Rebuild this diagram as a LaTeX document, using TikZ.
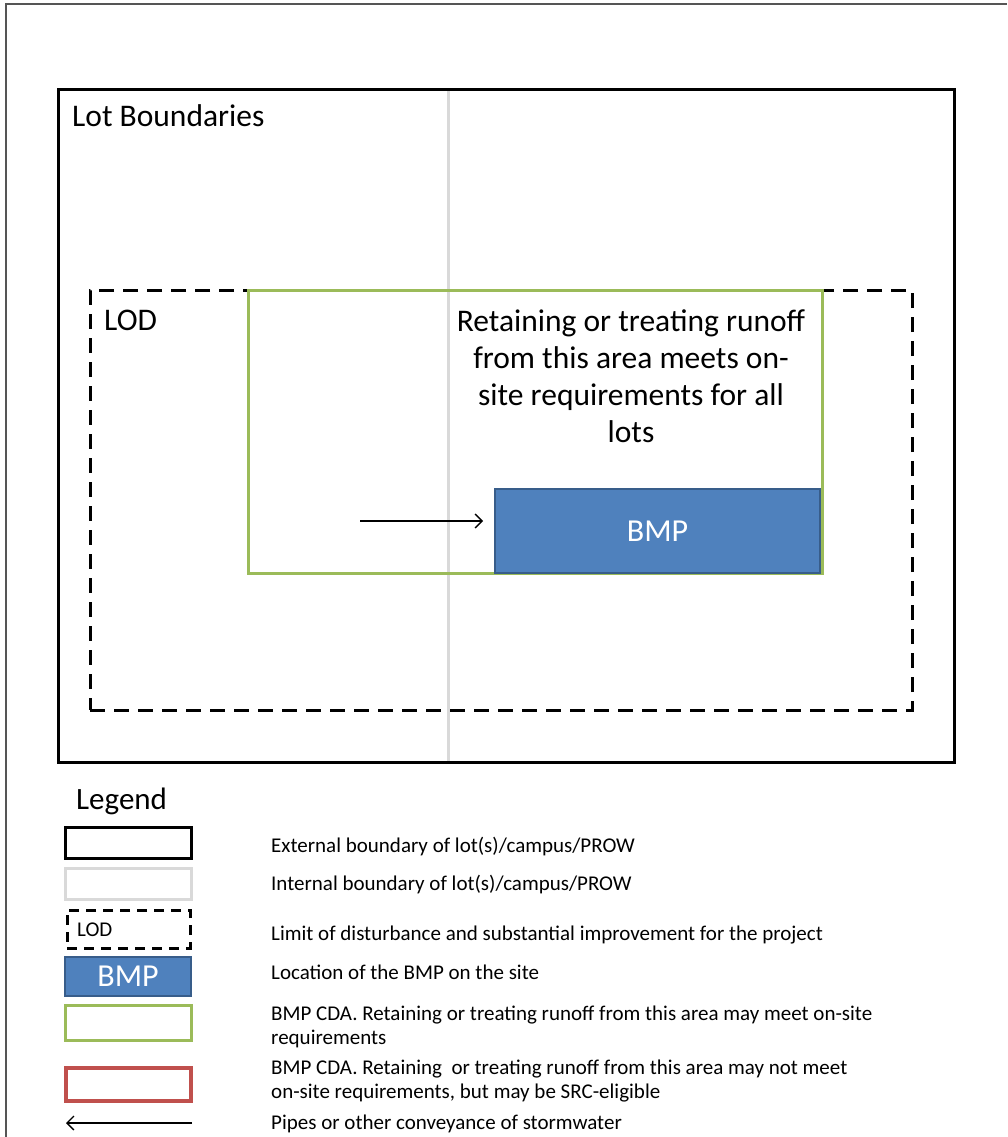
\documentclass[tikz,border=0pt]{standalone}
\usepackage{fontspec}
\setmainfont{Carlito}
\usetikzlibrary{arrows.meta}
\definecolor{cdagreen}{HTML}{9BBB59}
\definecolor{bmpfill}{HTML}{4F81BD}
\definecolor{bmpedge}{HTML}{385D8A}
\definecolor{cdared}{HTML}{C0504D}
\definecolor{intgray}{HTML}{D9D9D9}
\definecolor{framegray}{HTML}{555555}
\tikzset{
  box/.style={inner sep=0pt, outer sep=0pt, anchor=north west},
  extbox/.style={box, draw=black, line width=3pt},
  intbox/.style={box, draw=intgray, line width=3pt},
  lodbox/.style={box, draw=black, line width=3pt, dash pattern=on 15pt off 9pt},
  greenbox/.style={box, draw=cdagreen, line width=3pt},
  redbox/.style={box, draw=cdared, line width=3.2pt},
  bmpbox/.style={box, fill=bmpfill, draw=bmpedge, line width=1.5pt, text=white},
  pipe/.style={line width=1.3pt, -{Straight Barb[length=7pt,width=14pt,line width=1.3pt]}},
  legtext/.style={anchor=west, inner sep=0pt, align=left, font=\fontsize{21}{24.5}\selectfont},
  bigtext/.style={inner sep=0pt, font=\fontsize{31.5}{37}\selectfont}
}
\begin{document}
\begin{tikzpicture}[x=1pt,y=-1pt]
\useasboundingbox (0,0) rectangle (1007,1137);
% page frame
\draw[framegray, line width=1.5pt] (1007,4) -- (6,4) -- (6,1137);
% lot boundaries
\node[extbox, minimum width=896pt, minimum height=672pt] (lot) at (58,90) {};
\node[bigtext, anchor=west] (lottxt) at (72,116) {Lot Boundaries};
% internal boundary
\coordinate (intTop) at (448,91.5);
\coordinate (intBot) at (448,760.5);
\draw[intgray, line width=3pt] (intTop) -- (intBot);
% LOD
\node[lodbox, minimum width=822pt, minimum height=420pt] (lod) at (90,290) {};
\node[bigtext, anchor=west] (lodtxt) at (104,320) {LOD};
% CDA green
\node[greenbox, minimum width=574pt, minimum height=283pt] (cda) at (248,290) {};
\node[bigtext, align=center] (cdatxt) at (631,376) {Retaining or treating runoff\\from this area meets on-\\site requirements for all\\lots};
% BMP
\node[bmpbox, minimum width=325pt, minimum height=84pt, font=\fontsize{32}{36}\selectfont] (bmp) at (495,489) {BMP};
\coordinate (pipestart) at (360,521);
\draw[pipe] (pipestart) -- ([xshift=-12pt]bmp.west |- pipestart);
% Legend
\node[anchor=west, inner sep=0pt, font=\fontsize{31}{36}\selectfont] (legend) at (76,801) {Legend};
\node[extbox, minimum width=126pt, minimum height=31pt] (lg1) at (65,827) {};
\node[intbox, minimum width=126pt, minimum height=31pt] (lg2) at (65,868) {};
\node[lodbox, minimum width=123pt, minimum height=38pt, dash pattern=on 10pt off 7pt, line width=3pt] (lg3) at (67,910) {};
\node[anchor=west, inner sep=0pt, font=\fontsize{21}{24}\selectfont] (lg3t) at (77,930) {LOD};
\node[bmpbox, minimum width=126pt, minimum height=39pt, font=\fontsize{32}{36}\selectfont] (lg4) at (65,957) {BMP};
\node[greenbox, minimum width=126pt, minimum height=35pt] (lg5) at (65,1005) {};
\node[redbox, minimum width=125pt, minimum height=33pt] (lg6) at (66,1068) {};
\coordinate (lg7a) at (192,1123);
\coordinate (lg7b) at (66,1123);
\draw[pipe, line width=1.5pt] (lg7a) -- (lg7b);
\node[legtext] (t1) at (271,847) {External boundary of lot(s)/campus/PROW};
\node[legtext] (t2) at (271,885) {Internal boundary of lot(s)/campus/PROW};
\node[legtext] (t3) at (271,935) {Limit of disturbance and substantial improvement for the project};
\node[legtext] (t4) at (271,972) {Location of the BMP on the site};
\node[legtext] (t5) at (271,1027) {BMP CDA. Retaining or treating runoff from this area may meet on-site\\requirements};
\node[legtext] (t6) at (271,1081) {BMP CDA. Retaining\ \ or treating runoff from this area may not meet\\on-site requirements, but may be SRC-eligible};
\node[legtext] (t7) at (271,1124) {Pipes or other conveyance of stormwater};
\end{tikzpicture}
\end{document}
